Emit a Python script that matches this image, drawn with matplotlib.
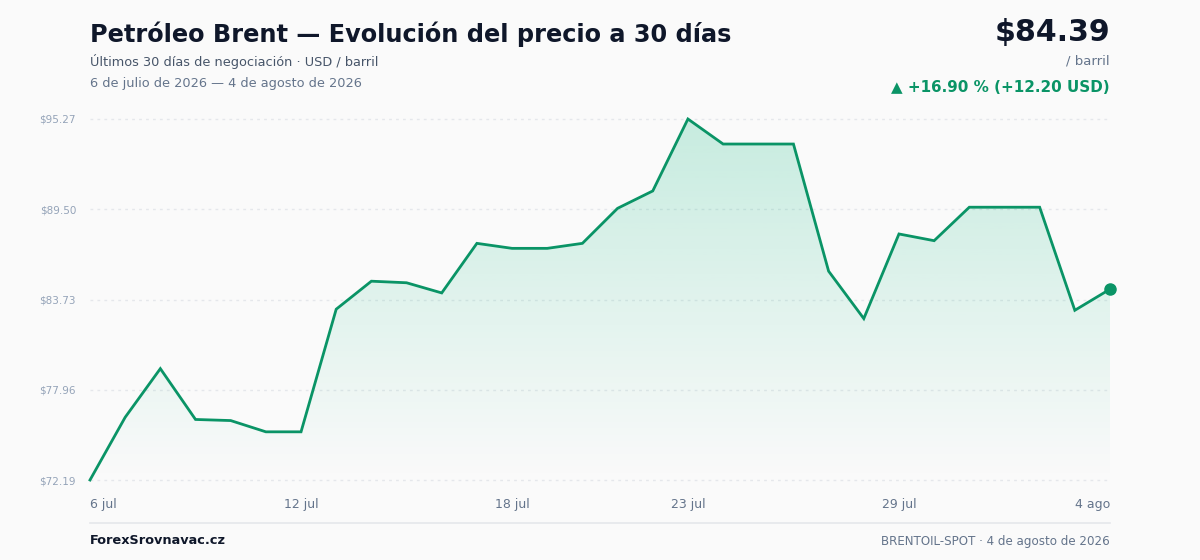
import matplotlib.pyplot as plt
import numpy as np
from matplotlib.colors import to_rgb

# data (USD / barrel, 6 jul -> 4 ago 2026, daily)
days = ['6 jul', '7 jul', '8 jul', '9 jul', '10 jul', '11 jul', '12 jul', '13 jul',
        '14 jul', '15 jul', '16 jul', '17 jul', '18 jul', '19 jul', '20 jul', '21 jul',
        '22 jul', '23 jul', '24 jul', '25 jul', '26 jul', '27 jul', '28 jul', '29 jul',
        '30 jul', '31 jul', '1 ago', '2 ago', '3 ago', '4 ago']
prices = [72.19, 76.20, 79.31, 76.06, 75.99, 75.27, 75.27, 83.11,
          84.90, 84.80, 84.15, 87.32, 87.00, 87.00, 87.32, 89.56,
          90.67, 95.27, 93.67, 93.67, 93.67, 85.54, 82.51, 87.92,
          87.49, 89.63, 89.63, 89.63, 83.04, 84.39]
xtick_days = ['6 jul', '12 jul', '18 jul', '23 jul', '29 jul', '4 ago']

GREEN = '#0a9466'
BG = '#fafafa'

x = np.arange(len(prices))
y = np.array(prices)
ymin, ymax = y.min(), y.max()
yticks = np.linspace(ymin, ymax, 5)

fig = plt.figure(figsize=(12, 5.6), dpi=100, facecolor=BG)
ax = fig.add_axes([0.075, 1 - 480 / 560, 0.85, 361 / 560])
ax.set_facecolor(BG)

# gradient area under the line
poly = ax.fill_between(x, y, ymin, color='none', lw=0)
r, g, b = to_rgb('#10b981')
grad = np.zeros((256, 1, 4))
grad[:, 0, 0], grad[:, 0, 1], grad[:, 0, 2] = r, g, b
grad[:, 0, 3] = np.linspace(0.22, 0.0, 256)
img = ax.imshow(grad, extent=[0, len(x) - 1, ymin, ymax], aspect='auto',
                origin='upper', zorder=1)
img.set_clip_path(poly.get_paths()[0], transform=ax.transData)

ax.plot(x, y, color=GREEN, lw=2, zorder=3, clip_on=False, solid_joinstyle='miter')
ax.plot(x[-1], y[-1], 'o', color=GREEN, ms=8, zorder=4, clip_on=False)

ax.set_xlim(0, len(x) - 1)
ax.set_ylim(ymin, ymax)
ax.set_yticks(yticks)
ax.set_yticklabels([f'${v:.2f}' for v in yticks])
for v in yticks:
    ax.axhline(v, color='#e5e7eb', lw=1, ls=(0, (2, 3)), zorder=0, clip_on=False)

ax.set_xticks([days.index(d) for d in xtick_days])
ax.set_xticklabels(xtick_days)
labels = ax.get_xticklabels()
labels[0].set_ha('left')
labels[-1].set_ha('right')

ax.tick_params(axis='y', length=0, pad=10, labelsize=7.5, labelcolor='#94a3b8')
ax.tick_params(axis='x', length=0, pad=13, labelsize=9, labelcolor='#64748b')
for s in ax.spines.values():
    s.set_visible(False)

# header
fig.text(0.075, 1 - 34 / 560, 'Petróleo Brent — Evolución del precio a 30 días',
         fontsize=17.25, fontweight='bold', color='#0f172a', va='center')
fig.text(0.075, 1 - 61 / 560, 'Últimos 30 días de negociación · USD / barril',
         fontsize=9.3, color='#475569', va='center')
fig.text(0.075, 1 - 83 / 560, '6 de julio de 2026 — 4 de agosto de 2026',
         fontsize=9.3, color='#64748b', va='center')

change = prices[-1] - prices[0]
pct = change / prices[0] * 100
fig.text(0.925, 1 - 32 / 560, f'${prices[-1]:.2f}',
         fontsize=21.6, fontweight='bold', color='#0f172a', va='center', ha='right')
fig.text(0.925, 1 - 61 / 560, '/ barril',
         fontsize=9.5, color='#64748b', va='center', ha='right')
fig.text(0.925, 1 - 87 / 560, f'▲ +{pct:.2f} % (+{change:.2f} USD)',
         fontsize=10.9, fontweight='bold', color=GREEN, va='center', ha='right')

# footer
fig.add_artist(plt.Line2D([0.075, 0.925], [1 - 523 / 560] * 2,
                          transform=fig.transFigure, color='#e5e7eb', lw=1.2))
fig.text(0.075, 1 - 541 / 560, 'ForexSrovnavac.cz',
         fontsize=9.3, fontweight='bold', color='#0f172a', va='center')
fig.text(0.925, 1 - 541 / 560, 'BRENTOIL-SPOT · 4 de agosto de 2026',
         fontsize=8.6, color='#64748b', va='center', ha='right')

fig.savefig('out.png', dpi=100, facecolor=BG)
